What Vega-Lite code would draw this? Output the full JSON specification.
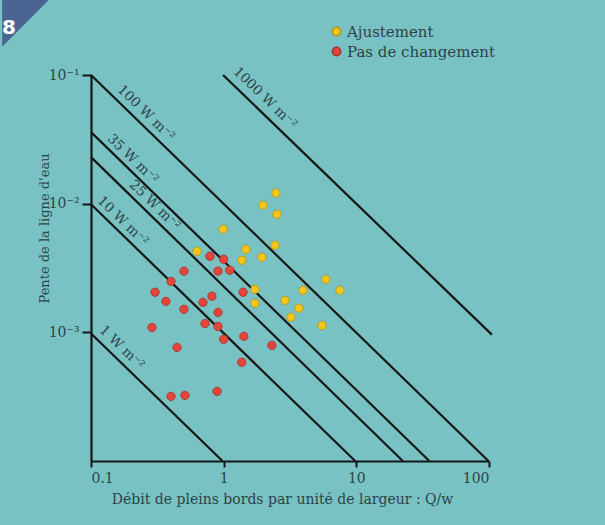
{
  "$schema": "https://vega.github.io/schema/vega-lite/v6.json",
  "width": 398,
  "height": 386,
  "autosize": {"type": "none"},
  "padding": {"left": 91, "top": 75, "right": 116, "bottom": 64},
  "background": "#79c2c4",
  "title": {
    "text": "◤",
    "subtitle": "8",
    "anchor": "start",
    "frame": "group",
    "color": "#4b6592",
    "font": "DejaVu Sans",
    "fontSize": 62,
    "dx": -89,
    "offset": -28,
    "subtitleColor": "white",
    "subtitleFont": "DejaVu Sans",
    "subtitleFontSize": 20,
    "subtitleFontWeight": "bold",
    "subtitlePadding": -34
  },
  "datasets": {
    "points": [
      {"q": 2.48, "S": 0.0121, "type": "Ajustement"},
      {"q": 1.98, "S": 0.00973, "type": "Ajustement"},
      {"q": 2.52, "S": 0.00828, "type": "Ajustement"},
      {"q": 0.99, "S": 0.00634, "type": "Ajustement"},
      {"q": 0.63, "S": 0.00427, "type": "Ajustement"},
      {"q": 1.47, "S": 0.00442, "type": "Ajustement"},
      {"q": 2.44, "S": 0.00475, "type": "Ajustement"},
      {"q": 1.37, "S": 0.00363, "type": "Ajustement"},
      {"q": 1.94, "S": 0.00383, "type": "Ajustement"},
      {"q": 5.9, "S": 0.00258, "type": "Ajustement"},
      {"q": 7.52, "S": 0.00212, "type": "Ajustement"},
      {"q": 1.72, "S": 0.00216, "type": "Ajustement"},
      {"q": 3.96, "S": 0.00212, "type": "Ajustement"},
      {"q": 2.9, "S": 0.00177, "type": "Ajustement"},
      {"q": 1.72, "S": 0.00168, "type": "Ajustement"},
      {"q": 3.69, "S": 0.00154, "type": "Ajustement"},
      {"q": 3.21, "S": 0.00131, "type": "Ajustement"},
      {"q": 5.51, "S": 0.00113, "type": "Ajustement"},
      {"q": 0.788, "S": 0.0039, "type": "Pas de changement"},
      {"q": 1.0, "S": 0.0037, "type": "Pas de changement"},
      {"q": 0.502, "S": 0.00299, "type": "Pas de changement"},
      {"q": 0.906, "S": 0.00299, "type": "Pas de changement"},
      {"q": 1.11, "S": 0.00304, "type": "Pas de changement"},
      {"q": 0.401, "S": 0.00249, "type": "Pas de changement"},
      {"q": 0.304, "S": 0.00205, "type": "Pas de changement"},
      {"q": 1.4, "S": 0.00205, "type": "Pas de changement"},
      {"q": 0.367, "S": 0.00174, "type": "Pas de changement"},
      {"q": 0.698, "S": 0.00171, "type": "Pas de changement"},
      {"q": 0.816, "S": 0.00191, "type": "Pas de changement"},
      {"q": 0.502, "S": 0.00151, "type": "Pas de changement"},
      {"q": 0.906, "S": 0.00143, "type": "Pas de changement"},
      {"q": 0.288, "S": 0.00109, "type": "Pas de changement"},
      {"q": 0.723, "S": 0.00117, "type": "Pas de changement"},
      {"q": 0.906, "S": 0.00111, "type": "Pas de changement"},
      {"q": 1.0, "S": 0.000883, "type": "Pas de changement"},
      {"q": 1.42, "S": 0.000931, "type": "Pas de changement"},
      {"q": 2.31, "S": 0.000792, "type": "Pas de changement"},
      {"q": 0.445, "S": 0.000764, "type": "Pas de changement"},
      {"q": 1.37, "S": 0.000585, "type": "Pas de changement"},
      {"q": 0.401, "S": 0.000318, "type": "Pas de changement"},
      {"q": 0.511, "S": 0.000324, "type": "Pas de changement"},
      {"q": 0.891, "S": 0.000348, "type": "Pas de changement"}
    ],
    "lines": [
      {"P": "1", "q": 0.1, "S": 0.00098},
      {"P": "1", "q": 0.98, "S": 0.0001},
      {"P": "10", "q": 0.1, "S": 0.0099},
      {"P": "10", "q": 9.8, "S": 0.0001},
      {"P": "25", "q": 0.1, "S": 0.023},
      {"P": "25", "q": 22.4, "S": 0.0001},
      {"P": "35", "q": 0.1, "S": 0.036},
      {"P": "35", "q": 35.5, "S": 0.0001},
      {"P": "100", "q": 0.1, "S": 0.1},
      {"P": "100", "q": 99, "S": 0.0001},
      {"P": "1000", "q": 0.99, "S": 0.1},
      {"P": "1000", "q": 105, "S": 0.00096}
    ],
    "labels": [
      {"text": "1000 W m⁻²", "q": 2.05, "S": 0.0662},
      {"text": "100 W m⁻²", "q": 0.26, "S": 0.0506},
      {"text": "35 W m⁻²", "q": 0.207, "S": 0.0222},
      {"text": "25 W m⁻²", "q": 0.303, "S": 0.00973},
      {"text": "10 W m⁻²", "q": 0.174, "S": 0.00731},
      {"text": "1 W m⁻²", "q": 0.171, "S": 0.00076}
    ]
  },
  "layer": [
    {
      "data": {"name": "lines"},
      "mark": {"type": "line", "color": "#161616", "strokeWidth": 2.2},
      "encoding": {
        "x": {"field": "q", "type": "quantitative", "scale": {"type": "log", "domain": [0.1, 100]},
          "axis": {"values": [0.1, 1, 10, 100], "format": "~g", "tickSize": 6, "labelFontSize": 14, "labelPadding": 4,
            "title": "Débit de pleins bords par unité de largeur : Q/w", "titleFontSize": 14, "titlePadding": 7, "titleX": 191}},
        "y": {"field": "S", "type": "quantitative", "scale": {"type": "log", "domain": [0.0001, 0.1]},
          "axis": {"values": [0.1, 0.01, 0.001], "tickSize": 9, "labelFontSize": 14, "labelPadding": 3,
            "labelExpr": "datum.value > 0.05 ? '10⁻¹' : datum.value > 0.005 ? '10⁻²' : '10⁻³'",
            "title": "Pente de la ligne d'eau", "titleFontSize": 13, "titleX": -40, "titleY": 153}},
        "detail": {"field": "P"}
      }
    },
    {
      "data": {"name": "labels"},
      "mark": {"type": "text", "angle": 44, "font": "DejaVu Serif", "fontSize": 13.5, "color": "#2c4246", "align": "center", "baseline": "middle"},
      "encoding": {
        "x": {"field": "q", "type": "quantitative"},
        "y": {"field": "S", "type": "quantitative"},
        "text": {"field": "text"}
      }
    },
    {
      "data": {"name": "points"},
      "mark": {"type": "circle", "size": 70, "opacity": 1, "strokeWidth": 0.8},
      "encoding": {
        "x": {"field": "q", "type": "quantitative"},
        "y": {"field": "S", "type": "quantitative"},
        "color": {"field": "type", "type": "nominal",
          "scale": {"domain": ["Ajustement", "Pas de changement"], "range": ["#f2c61c", "#e2463a"]},
          "legend": {"title": null, "orient": "none", "legendX": 238, "legendY": -51, "padding": 0,
            "labelFont": "DejaVu Serif", "labelFontSize": 15, "labelColor": "#2c4246", "symbolSize": 70,
            "symbolType": "circle", "rowPadding": 4, "labelOffset": 3, "symbolOpacity": 1}},
        "stroke": {"field": "type", "type": "nominal",
          "scale": {"domain": ["Ajustement", "Pas de changement"], "range": ["#b8920e", "#a8302a"]},
          "legend": null}
      }
    }
  ],
  "config": {
    "view": {"stroke": null},
    "axis": {
      "grid": false,
      "domainColor": "#161616",
      "domainWidth": 2.2,
      "tickColor": "#161616",
      "tickWidth": 2,
      "labelFont": "DejaVu Serif",
      "labelColor": "#2c4246",
      "titleFont": "DejaVu Serif",
      "titleColor": "#2c4246",
      "titleFontWeight": "normal"
    }
  }
}
